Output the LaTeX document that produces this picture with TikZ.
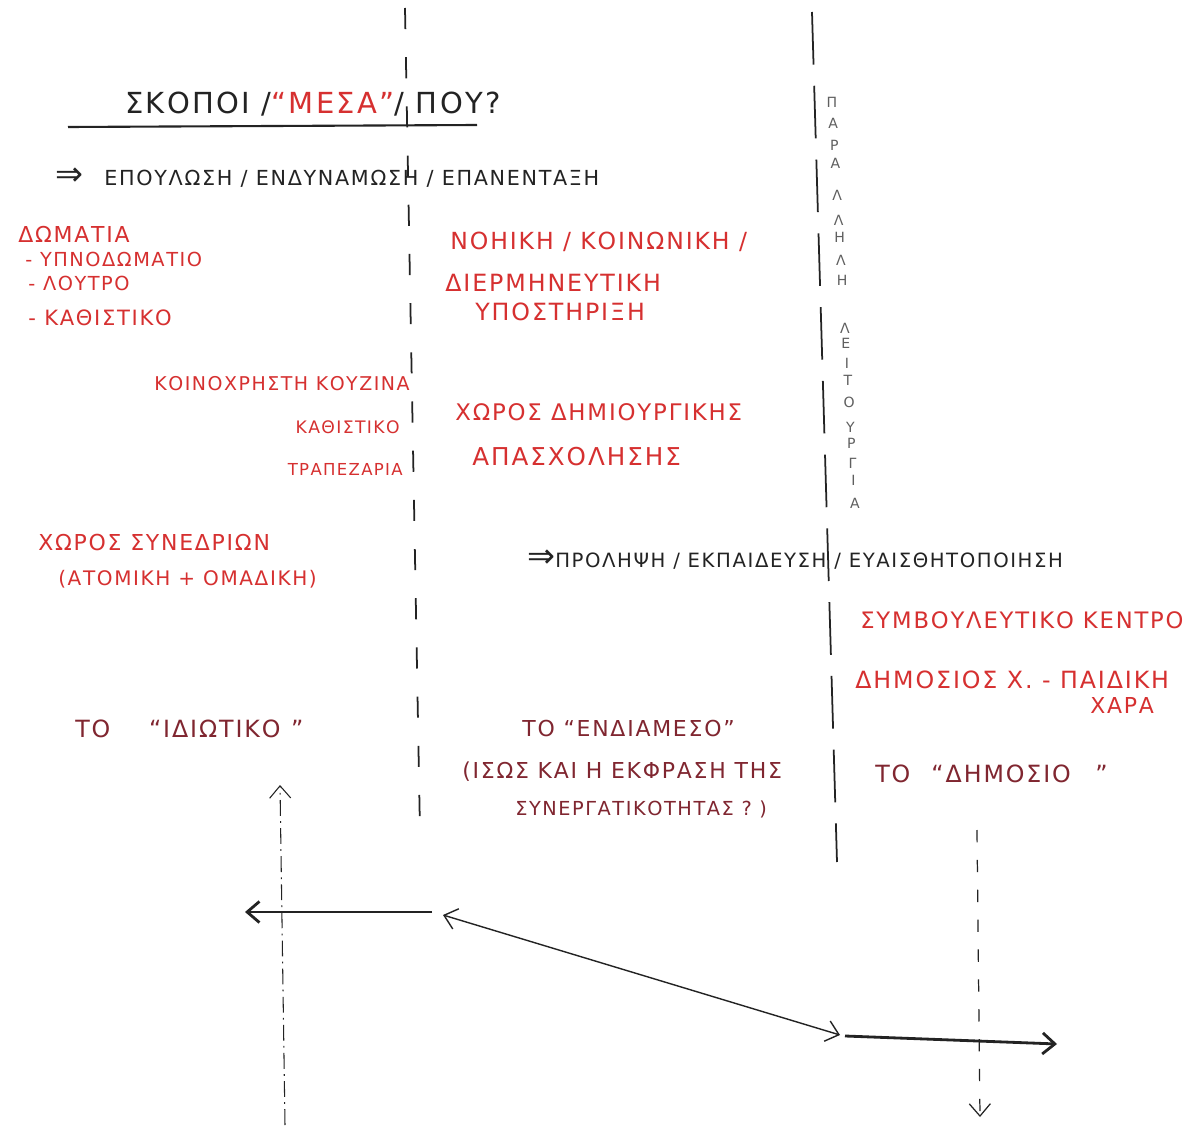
\documentclass[tikz,border=0pt]{standalone}
\usepackage{fontspec}
\setmainfont{DejaVu Sans}
\newfontfamily\hand[LetterSpace=8]{DejaVu Sans}
\usetikzlibrary{arrows.meta}
\definecolor{ink}{RGB}{35,35,35}
\definecolor{pen}{RGB}{214,48,48}
\definecolor{wine}{RGB}{128,38,48}
\definecolor{lead}{RGB}{95,95,95}
\newcommand{\fs}[1]{\hand\fontsize{#1}{#1}\selectfont}
\tikzset{
  txt/.style={inner sep=0pt, anchor=base west, font=\fs{12.5}},
  blk/.style={txt, text=ink},
  rd/.style={txt, text=pen},
  wn/.style={txt, text=wine},
  vt/.style={inner sep=0pt, text=lead, font=\fs{8}},
  sep/.style={draw=ink, line width=1pt, dash pattern=on 12pt off 16pt},
  rail/.style={draw=ink, line width=1pt, dash pattern=on 30pt off 12pt},
  axis/.style={draw=ink, line width=0.6pt, dash pattern=on 9pt off 3pt on 1pt off 3pt},
  flow/.style={draw=ink, line width=1.6pt, -{Straight Barb[length=7pt,width=12pt]}},
  link/.style={draw=ink, line width=0.8pt, {Straight Barb[length=7pt,width=12pt]}-{Straight Barb[length=7pt,width=12pt]}}
}
\begin{document}
\begin{tikzpicture}[x=0.02cm, y=-0.02cm]
  \fill[white] (0,0) rectangle (1188,1132);
  \useasboundingbox (0,0) rectangle (1188,1132);
  % separators
  \coordinate (s1) at (405,8);
  \coordinate (s2) at (420,832);
  \coordinate (r1) at (812,12);
  \coordinate (r2) at (837,862);
  \draw[sep] (s1) -- (s2);
  \draw[rail] (r1) -- (r2);
  % title
  \node[blk, font=\fs{16.5}] (title) at (125,114) {ΣΚΟΠΟΙ /\textcolor{pen}{“ΜΕΣΑ”}/ ΠΟΥ?};
  \coordinate (u1) at (68,127);
  \coordinate (u2) at (477,125);
  \draw[ink, line width=1.2pt] (u1) -- (u2);
  \node[blk, font=\fs{11.8}] (aims) at (55,186) {{\fs{19}⇒}\hspace{12pt}ΕΠΟΥΛΩΣΗ / ΕΝΔΥΝΑΜΩΣΗ / ΕΠΑΝΕΝΤΑΞΗ};
  % private
  \node[rd] (rooms) at (18,243) {ΔΩΜΑΤΙΑ};
  \node[rd, font=\fs{11}] (bed) at (25,267) {- ΥΠΝΟΔΩΜΑΤΙΟ};
  \node[rd, font=\fs{11}] (bath) at (28,291) {- ΛΟΥΤΡΟ};
  \node[rd, font=\fs{12}] (liv) at (28,325) {- ΚΑΘΙΣΤΙΚΟ};
  \node[rd, anchor=base east, font=\fs{10.8}] (kit) at (410,390) {ΚΟΙΝΟΧΡΗΣΤΗ ΚΟΥΖΙΝΑ};
  \node[rd, anchor=base east, font=\fs{9.8}] (liv2) at (400,433) {ΚΑΘΙΣΤΙΚΟ};
  \node[rd, anchor=base east, font=\fs{9.4}] (din) at (403,475) {ΤΡΑΠΕΖΑΡΙΑ};
  \node[rd] (conf) at (38,550) {ΧΩΡΟΣ ΣΥΝΕΔΡΙΩΝ};
  \node[rd, font=\fs{11.4}] (conf2) at (58,585) {(ΑΤΟΜΙΚΗ + ΟΜΑΔΙΚΗ)};
  % intermediate
  \node[rd, font=\fs{13.4}] (sup1) at (450,250) {ΝΟΗΙΚΗ / ΚΟΙΝΩΝΙΚΗ /};
  \node[rd, font=\fs{13.5}] (sup2) at (445,292) {ΔΙΕΡΜΗΝΕΥΤΙΚΗ};
  \node[rd, font=\fs{13.5}] (sup3) at (475,320) {ΥΠΟΣΤΗΡΙΞΗ};
  \node[rd, font=\fs{13}] (art1) at (455,420) {ΧΩΡΟΣ ΔΗΜΙΟΥΡΓΙΚΗΣ};
  \node[rd, font=\fs{14}] (art2) at (472,465) {ΑΠΑΣΧΟΛΗΣΗΣ};
  % public
  \node[blk, font=\fs{11.2}] (prev) at (527,567) {{\fs{19}⇒}ΠΡΟΛΗΨΗ / ΕΚΠΑΙΔΕΥΣΗ / ΕΥΑΙΣΘΗΤΟΠΟΙΗΣΗ};
  \node[rd, font=\fs{12.9}] (ctr) at (860,628) {ΣΥΜΒΟΥΛΕΥΤΙΚΟ ΚΕΝΤΡΟ};
  \node[rd, font=\fs{13.5}] (park) at (855,688) {ΔΗΜΟΣΙΟΣ Χ. - ΠΑΙΔΙΚΗ};
  \node[rd] (park2) at (1090,713) {ΧΑΡΑ};
  % parallel
  \foreach \c/\y in {Π/102,Α/123,Ρ/145,Α/163,Λ/195,Λ/220,Η/237,Λ/260,Η/280,Λ/328,Ε/343,Ι/363,Τ/380,Ο/402,Υ/427,Ρ/443,Γ/463,Ι/480,Α/503}
    \node[vt] (v\y) at ({832+(\y-102)*0.057},\y) {\c};
  % zones
  \node[wn, font=\fs{13.5}] (priv) at (75,737) {ΤΟ\hspace{22pt}“ΙΔΙΩΤΙΚΟ\hspace{6pt}”};
  \node[wn] (mid) at (522,736) {ΤΟ “ΕΝΔΙΑΜΕΣΟ”};
  \node[wn] (mid2) at (462,778) {(ΙΣΩΣ ΚΑΙ Η ΕΚΦΡΑΣΗ ΤΗΣ};
  \node[wn, font=\fs{11}] (mid3) at (515,815) {ΣΥΝΕΡΓΑΤΙΚΟΤΗΤΑΣ ? )};
  \node[wn, font=\fs{13.5}] (pub) at (875,782) {ΤΟ\hspace{12pt}“ΔΗΜΟΣΙΟ\hspace{14pt}”};
  % movements
  \coordinate (a1) at (285,1125);
  \coordinate (a2) at (280,785);
  \coordinate (b1) at (432,912);
  \coordinate (b2) at (245,912);
  \coordinate (c1) at (443,915);
  \coordinate (c2) at (840,1035);
  \coordinate (d1) at (845,1036);
  \coordinate (d2) at (1057,1044);
  \coordinate (e1) at (977,830);
  \coordinate (e2) at (980,1117);
  \draw[axis, -{Straight Barb[length=7pt,width=12pt]}] (a1) -- (a2);
  \draw[flow] (b1) -- (b2);
  \draw[link] (c1) -- (c2);
  \draw[flow] (d1) -- (d2);
  \draw[sep, line width=0.7pt, dash pattern=on 7pt off 10pt, -{Straight Barb[length=7pt,width=12pt]}] (e1) -- (e2);
\end{tikzpicture}
\end{document}
